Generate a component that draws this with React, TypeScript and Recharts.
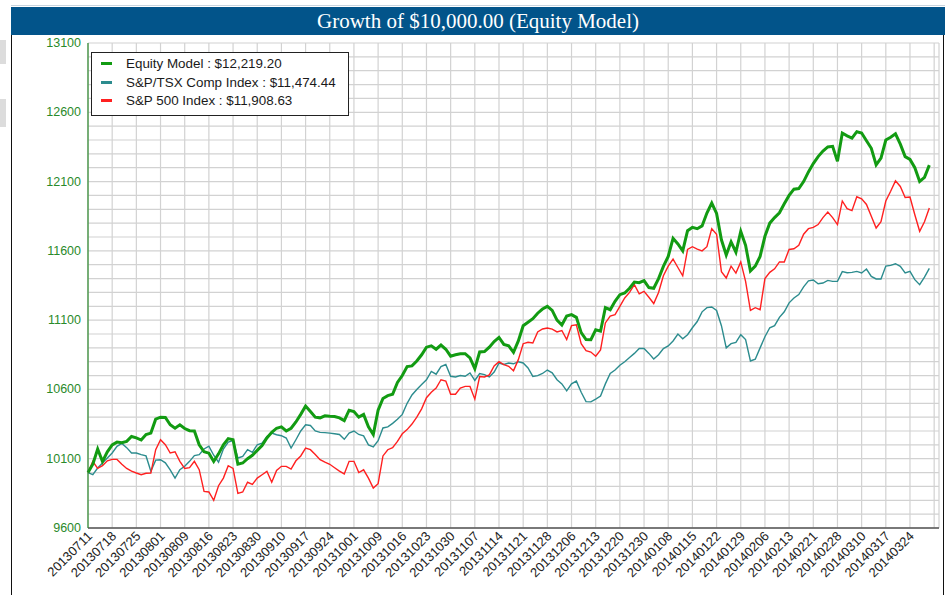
import React from "react";
import { LineChart, Line, XAxis, YAxis, CartesianGrid } from "recharts";

const tickLabels = [
  "20130711", "20130718", "20130725", "20130801", "20130809", "20130816", "20130823",
  "20130830", "20130910", "20130917", "20130924", "20131001", "20131009", "20131016",
  "20131023", "20131030", "20131107", "20131114", "20131121", "20131128", "20131206",
  "20131213", "20131220", "20131230", "20140108", "20140115", "20140122", "20140129",
  "20140206", "20140213", "20140221", "20140228", "20140310", "20140317", "20140324",
];

const equity = [
  10000, 10060, 10170, 10080, 10150, 10200, 10220, 10215, 10225, 10260,
  10250, 10235, 10275, 10285, 10385, 10400, 10398, 10345, 10320, 10345,
  10318, 10302, 10300, 10200, 10150, 10140, 10080, 10135, 10200, 10245,
  10237, 10060, 10069, 10100, 10125, 10160, 10195, 10250, 10290, 10320,
  10330, 10300, 10320, 10365, 10420, 10480, 10440, 10400, 10395, 10410,
  10406, 10405, 10395, 10375, 10450, 10440, 10400, 10420, 10330, 10275,
  10450, 10535, 10555, 10565, 10650, 10700, 10765, 10770, 10805, 10850,
  10905, 10915, 10890, 10920, 10890, 10840, 10850, 10858, 10858, 10827,
  10750, 10870, 10873, 10905, 10945, 10975, 10925, 10915, 10868, 10950,
  11060, 11085, 11110, 11150, 11180, 11199, 11170, 11100, 11065, 11130,
  11140, 11120, 11010, 10960, 10959, 11030, 11020, 11190, 11175, 11236,
  11284, 11296, 11330, 11375, 11370, 11385, 11335, 11330, 11400, 11488,
  11560, 11690, 11650, 11600, 11745, 11770, 11760, 11780, 11873, 11945,
  11870, 11680, 11570, 11665, 11590, 11740, 11640, 11455, 11490, 11560,
  11705, 11800, 11840, 11875, 11940, 12000, 12045, 12050, 12100, 12170,
  12230, 12280, 12320, 12350, 12354, 12246, 12450, 12430, 12414, 12460,
  12450, 12395, 12340, 12220, 12270, 12400, 12420, 12445, 12370, 12280,
  12260, 12200, 12101, 12130, 12219,
];

const tsx = [
  10000, 9985, 10033, 10069, 10105, 10141, 10189, 10210, 10180, 10141,
  10141, 10129, 10120, 10010, 10090, 10093, 10070, 10020, 9960, 10021,
  10045, 10081, 10122, 10129, 10170, 10190, 10125, 10075, 10170, 10220,
  10230, 10105, 10117, 10165, 10146, 10201, 10213, 10261, 10285, 10273,
  10266, 10249, 10177, 10237, 10300, 10345, 10340, 10300, 10290, 10288,
  10285, 10280, 10275, 10240, 10285, 10300, 10275, 10265, 10200, 10185,
  10230, 10322, 10330, 10355, 10385, 10420, 10500, 10560, 10600, 10635,
  10670, 10730, 10710, 10765, 10780, 10695, 10690, 10700, 10695, 10719,
  10665, 10715, 10707, 10690, 10725, 10790, 10780, 10791, 10785, 10800,
  10791, 10755, 10694, 10700, 10715, 10740, 10720, 10670, 10640, 10590,
  10640, 10660, 10580, 10512, 10510, 10530, 10552, 10640, 10715, 10740,
  10775, 10800, 10830, 10860, 10895, 10895, 10860, 10820, 10850, 10895,
  10914, 10950, 11000, 10965, 10995, 11045, 11090, 11160, 11190, 11195,
  11170, 11060, 10900, 10930, 10940, 10995, 10960, 10805, 10818, 10900,
  10980, 11045, 11060, 11120, 11160, 11225, 11260, 11285, 11340, 11383,
  11390, 11363, 11368, 11387, 11380, 11380, 11450, 11442, 11445, 11452,
  11440, 11469, 11416, 11397, 11397, 11490, 11495, 11507, 11488, 11440,
  11452, 11392, 11356, 11410, 11474,
];

const sp500 = [
  10000, 10080, 10030, 10050, 10085, 10095, 10095, 10060, 10030, 10010,
  9997, 9985, 9995, 9997, 10165, 10237, 10201, 10141, 10150, 10081,
  10030, 10035, 10081, 10021, 9864, 9860, 9800, 9905, 9960, 10050,
  10030, 9850, 9860, 9930, 9915, 9960, 9984, 10009, 9930, 10015,
  10045, 10045, 10025, 10085, 10120, 10177, 10165, 10130, 10093, 10075,
  10060, 10035, 10010, 9990, 10081, 10081, 10000, 10020, 9960, 9888,
  9920, 10120, 10165, 10180, 10225, 10280, 10310, 10350, 10400, 10460,
  10540, 10580, 10610, 10670, 10660, 10565, 10565, 10610, 10622, 10622,
  10530, 10693, 10690, 10705, 10770, 10800, 10779, 10767, 10735, 10815,
  10930, 10940, 10935, 11015, 11036, 11043, 11035, 11015, 11025, 10960,
  11060, 11067, 10930, 10880, 10870, 10840, 10885, 11080, 11130, 11140,
  11200, 11260, 11300, 11356, 11290, 11308, 11265, 11220, 11300, 11420,
  11490, 11540, 11480, 11420, 11610, 11630, 11612, 11600, 11630, 11760,
  11720, 11450, 11404, 11490, 11440, 11520, 11380, 11170, 11190, 11175,
  11400, 11445, 11470, 11520, 11520, 11610, 11615, 11640, 11720, 11760,
  11770, 11790, 11840, 11880, 11840, 11790, 11960, 11905, 11890, 11990,
  11975, 11935, 11850, 11765, 11810, 11960, 12030, 12105, 12065, 11985,
  11988, 11861, 11741, 11810, 11909,
];

const seriesNames = ["Equity Model", "S&P/TSX Comp Index", "S&P 500 Index"];
const finalValues = [12219.2, 11474.44, 11908.63];
const yLabelTicks = [9600, 10100, 10600, 11100, 11600, 12100, 12600, 13100];

const COLORS = { equity: "#129b12", tsx: "#2c8c8e", sp500: "#ff2020" };

const data = equity.map((v, i) => ({ idx: i, equity: v, tsx: tsx[i], sp500: sp500[i] }));

const yGridTicks: number[] = [];
for (let v = yLabelTicks[0]; v <= yLabelTicks[yLabelTicks.length - 1]; v += 100) yGridTicks.push(v);
const xTicks: number[] = tickLabels.map((_, k) => k * 5).concat([tickLabels.length * 5]);

const fmt = (n: number) =>
  "$" + n.toLocaleString("en-US", { minimumFractionDigits: 2, maximumFractionDigits: 2 });

const XTick = (props: any) => {
  const { x, y, payload } = props;
  const k = payload.value / 5;
  const label = tickLabels[k] || "";
  return (
    <g transform={`translate(${x + 5},${y + 9})`}>
      <text
        x={0}
        y={0}
        textAnchor="end"
        transform="rotate(-45)"
        fontSize={13}
        fontFamily="'Liberation Sans', Arial, sans-serif"
        fill="#222"
      >
        {label}
      </text>
    </g>
  );
};

const YTick = (props: any) => {
  const { x, y, payload } = props;
  if (!yLabelTicks.includes(payload.value)) return null;
  return (
    <text
      x={x - 7}
      y={y + 4}
      textAnchor="end"
      fontSize={12.5}
      fontFamily="'Liberation Sans', Arial, sans-serif"
      fill="#2a8a2a"
    >
      {payload.value}
    </text>
  );
};

const LegendBox = () => {
  const items = [
    { name: seriesNames[0], color: COLORS.equity, value: finalValues[0] },
    { name: seriesNames[1], color: COLORS.tsx, value: finalValues[1] },
    { name: seriesNames[2], color: COLORS.sp500, value: finalValues[2] },
  ];
  return (
    <div
      style={{
        position: "absolute",
        left: 91,
        top: 52,
        width: 256,
        height: 62,
        border: "1px solid #222",
        background: "#fff",
        fontFamily: "'Liberation Sans', Arial, sans-serif",
        fontSize: 13.4,
        color: "#1a1a1a",
      }}
    >
      {items.map((it, i) => (
        <div
          key={it.name}
          style={{ position: "absolute", left: 0, top: 3 + i * 18.5, height: 16, lineHeight: "16px", whiteSpace: "nowrap" }}
        >
          <span style={{ position: "absolute", left: 9, top: 6, width: 11, height: 3, background: it.color }} />
          <span style={{ position: "absolute", left: 34, top: 0 }}>
            {it.name} : {fmt(it.value)}
          </span>
        </div>
      ))}
    </div>
  );
};

export default function App() {
  return (
    <div style={{ position: "absolute", left: 0, top: 0, width: 952, height: 595, background: "#fff", overflow: "hidden" }}>
      <div style={{ position: "absolute", left: 0, top: 40, width: 6, height: 24, background: "#dcdcdc" }} />
      <div style={{ position: "absolute", left: 0, top: 99, width: 6, height: 28, background: "#dcdcdc" }} />
      <div style={{ position: "absolute", left: 11, top: 5, width: 934, height: 1, background: "#c8d4de" }} />
      <div
        style={{
          position: "absolute",
          left: 11,
          top: 7,
          width: 934,
          height: 28,
          background: "#02548a",
          color: "#fff",
          fontFamily: "'Liberation Serif', 'Times New Roman', serif",
          fontSize: 21,
          lineHeight: "28px",
          textAlign: "center",
        }}
      >
        Growth of $10,000.00 (Equity Model)
      </div>
      <div style={{ position: "absolute", left: 11, top: 35, width: 1, height: 560, background: "#111" }} />
      <div style={{ position: "absolute", left: 943, top: 35, width: 1, height: 560, background: "#111" }} />
      <div style={{ position: "absolute", left: 0, top: 0 }}>
        <LineChart width={952} height={595} data={data} margin={{ top: 43, right: 13, bottom: 0, left: 0 }}>
          <CartesianGrid stroke="#d2d2d2" strokeWidth={1.2} />
          <XAxis
            dataKey="idx"
            type="number"
            domain={[0, 176]}
            ticks={xTicks}
            interval={0}
            height={67}
            tickSize={0}
            tickMargin={0}
            tickLine={false}
            axisLine={{ stroke: "#555", strokeWidth: 1.5 }}
            tick={<XTick />}
          />
          <YAxis
            type="number"
            domain={[9600, 13100]}
            ticks={yGridTicks}
            interval={0}
            width={88}
            tickSize={0}
            tickMargin={0}
            tickLine={false}
            axisLine={{ stroke: "#2e8a2e", strokeWidth: 1.2 }}
            tick={<YTick />}
          />
          <Line type="linear" dataKey="tsx" name={seriesNames[1]} stroke={COLORS.tsx} strokeWidth={1.4} dot={false} isAnimationActive={false} />
          <Line type="linear" dataKey="sp500" name={seriesNames[2]} stroke={COLORS.sp500} strokeWidth={1.4} dot={false} isAnimationActive={false} />
          <Line type="linear" dataKey="equity" name={seriesNames[0]} stroke={COLORS.equity} strokeWidth={3} dot={false} isAnimationActive={false} />
        </LineChart>
      </div>
      <LegendBox />
    </div>
  );
}
